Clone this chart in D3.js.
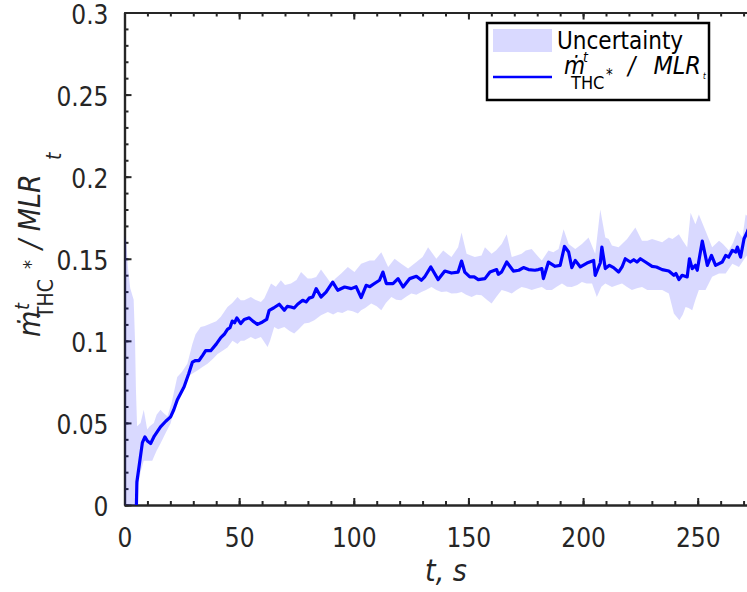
<!DOCTYPE html>
<html>
<head>
<meta charset="utf-8">
<script src="https://cdn.jsdelivr.net/npm/d3@7.9.0/dist/d3.min.js"></script>
<style>
  body { margin: 0; background: #fff; }
  svg { display: block; font-family: "DejaVu Sans Condensed", "DejaVu Sans", sans-serif; }
</style>
</head>
<body>
<svg id="chart" width="747" height="592"></svg>
<script>
// mean ratio (t in s)
const meanT = [5.2, 5.4, 6.5, 7.8, 8.9, 10, 11.4, 13, 15.7, 18, 20.1, 21.5, 23, 26, 28, 29.6, 31, 32.5, 34, 35.4,
  37.6, 40, 42, 43.5, 44.9, 46, 47, 48, 49, 50.7, 52.2, 54.4, 56, 58, 60.2, 62, 63.1, 65, 67.5, 69.7,
  71, 72.6, 74, 75.5, 77.7, 79.2, 80.5, 82.1, 83.6, 85.7, 87.9, 90.8, 93, 96, 98.9, 101, 103.2, 105.4, 107, 109,
  111.2, 112.7, 114.2, 117.1, 119.3, 121.5, 124.4, 127.3, 129.5, 130.9, 133.6, 136.8, 139.7, 142.6, 145.5, 147, 148.4, 150.6, 152.5, 154.3,
  157.2, 159.4, 162.3, 163, 164.5, 166.7, 169.6, 172, 174, 176.2, 179, 180.5, 182, 182.7, 184.9, 187.8, 190, 191.9, 193.7, 195.1,
  196.6, 198.8, 201.7, 204.6, 205.3, 207.5, 208.2, 209.7, 211.5, 213.3, 215.5, 217, 218.4, 220.6, 222.1, 223.5, 225, 227.2, 230.1, 232,
  234.5, 237.4, 239.6, 240.5, 241.8, 243.2, 245.4, 246.4, 247.6, 249, 249.8, 252, 254.2, 256, 257.8, 260.7, 262.2, 263.5, 265.1, 266.6,
  267.3, 268.7, 270.2, 271.5, 272.4];
const meanV = [0, 0.014, 0.025, 0.038, 0.0415, 0.039, 0.0375, 0.042, 0.0476, 0.051, 0.0537, 0.058, 0.064, 0.072, 0.080, 0.087, 0.088, 0.088, 0.091, 0.094,
  0.094, 0.098, 0.102, 0.104, 0.107, 0.108, 0.112, 0.111, 0.114, 0.1105, 0.113, 0.114, 0.112, 0.110, 0.1115, 0.113, 0.1186, 0.120, 0.1223, 0.1186,
  0.121, 0.1206, 0.120, 0.1223, 0.1247, 0.1237, 0.126, 0.1267, 0.1318, 0.1267, 0.1297, 0.1358, 0.1308, 0.1328, 0.1318, 0.133, 0.1263, 0.1338, 0.133, 0.1349,
  0.1369, 0.1419, 0.1349, 0.1349, 0.1379, 0.1328, 0.1379, 0.1393, 0.1369, 0.1389, 0.145, 0.1373, 0.1425, 0.1413, 0.1419, 0.1486, 0.1419, 0.1389, 0.139, 0.1373,
  0.1379, 0.1419, 0.1434, 0.1405, 0.142, 0.148, 0.1425, 0.143, 0.1446, 0.1434, 0.143, 0.1434, 0.144, 0.1379, 0.148, 0.1454, 0.146, 0.1575, 0.1541, 0.1446,
  0.149, 0.145, 0.1474, 0.149, 0.1399, 0.1474, 0.1571, 0.144, 0.146, 0.1446, 0.1419, 0.145, 0.15, 0.148, 0.1494, 0.148, 0.15, 0.148, 0.1454, 0.145,
  0.1434, 0.1425, 0.1399, 0.141, 0.1373, 0.1399, 0.1389, 0.15, 0.144, 0.146, 0.143, 0.1608, 0.146, 0.152, 0.146, 0.148, 0.152, 0.151, 0.1551, 0.1541,
  0.1571, 0.151, 0.1622, 0.166, 0.169];

// uncertainty band, upper edge
const upperT = [0, 0.8, 1.5, 2.5, 4, 4.6, 5, 5.5, 7, 8.4, 9.9, 11, 12.8, 14, 15.7, 17, 18.7, 20.5, 23, 25,
  27.4, 29.6, 31, 33.2, 35, 37.6, 40, 42, 44.9, 47, 49.3, 50.7, 52.2, 55.1, 57, 59.5, 61, 63.9, 66, 68.2,
  70, 72.6, 75, 77, 79.9, 81.5, 83.6, 85.7, 88, 90.1, 92, 94.5, 97.4, 100.3, 103.2, 106.9, 109, 112, 115, 117.8,
  120.7, 123.7, 127.3, 130, 132.4, 136, 139, 142.6, 145.5, 147, 149.2, 152.8, 155.7, 157.2, 160.1, 162, 164.5, 166.7, 168.9, 171,
  173.2, 175, 177.6, 180, 182, 184.9, 187, 189.3, 191.5, 193.7, 196.6, 199.5, 202.4, 205.3, 207.5, 209.7, 211.2, 212.6, 215.5, 219.2,
  222.8, 225.7, 228, 230.1, 234.5, 237.4, 239, 241.8, 243.5, 245.4, 246.9, 249, 250.5, 253.4, 256.3, 259.3, 261, 263.6, 265.5, 267.3,
  269.5, 270.9, 272.4];
const upperV = [0.165, 0.16, 0.145, 0.132, 0.125, 0.10, 0.07, 0.048, 0.05, 0.058, 0.046, 0.048, 0.05, 0.055, 0.058, 0.056, 0.054, 0.062, 0.078, 0.081,
  0.086, 0.098, 0.104, 0.1085, 0.109, 0.1105, 0.112, 0.1146, 0.1206, 0.123, 0.1267, 0.1247, 0.1247, 0.1267, 0.125, 0.1237, 0.126, 0.1349, 0.133, 0.1369,
  0.134, 0.1349, 0.137, 0.1419, 0.1379, 0.138, 0.1389, 0.1434, 0.139, 0.1349, 0.138, 0.141, 0.145, 0.1419, 0.147, 0.149, 0.149, 0.154, 0.145, 0.15,
  0.147, 0.144, 0.148, 0.151, 0.157, 0.15, 0.155, 0.151, 0.157, 0.166, 0.153, 0.151, 0.152, 0.157, 0.153, 0.155, 0.159, 0.165, 0.151, 0.152,
  0.153, 0.155, 0.156, 0.152, 0.149, 0.155, 0.154, 0.156, 0.168, 0.159, 0.156, 0.159, 0.163, 0.153, 0.18, 0.163, 0.162, 0.158, 0.157, 0.162,
  0.169, 0.161, 0.161, 0.162, 0.16, 0.163, 0.162, 0.165, 0.161, 0.157, 0.178, 0.171, 0.177, 0.167, 0.157, 0.161, 0.159, 0.155, 0.16, 0.167,
  0.163, 0.177, 0.175];

// uncertainty band, lower edge
const lowerT = [0, 4.8, 5.5, 7, 8.4, 10, 12.1, 14, 15.7, 18, 20.1, 22, 24.5, 27.4, 29.5, 31.8, 34, 36.2, 38.5, 40.6,
  42.8, 44.9, 47.1, 49.3, 50.7, 52.2, 55.1, 57, 59.5, 62.4, 63.5, 65.3, 67, 69.7, 72, 74, 76, 78.4, 80.5, 82.8,
  85.7, 88.7, 91, 93, 95, 97.4, 99.5, 101.8, 103.2, 105, 107.6, 110, 112, 114, 116.4, 118.5, 120.7, 123, 125.1, 127.3,
  129.5, 131.5, 133.9, 136, 138.2, 140.5, 142.6, 145, 147, 149, 151.4, 153.5, 155.7, 158, 160.1, 162.3, 164.5, 166.7, 168.9, 171,
  173.2, 175.5, 177.6, 180, 182, 184, 186.4, 188.5, 190.8, 193, 195.1, 197.5, 199.5, 201.5, 203.9, 206, 208, 209.7, 212.6, 215,
  217, 219, 221.3, 223.5, 225.7, 228, 230.1, 232.5, 234.5, 237.4, 239.6, 242, 243.5, 244.7, 246, 247.6, 249, 250.5, 253.4, 256.3,
  259.3, 262.2, 265.1, 268, 270.9, 272.4];
const lowerV = [-0.05, -0.05, 0.009, 0.02, 0.027, 0.027, 0.027, 0.033, 0.0375, 0.044, 0.0497, 0.06, 0.07, 0.078, 0.080, 0.082, 0.084, 0.086, 0.089, 0.092,
  0.094, 0.096, 0.1, 0.098, 0.1, 0.1, 0.1024, 0.101, 0.1024, 0.0963, 0.1, 0.1085, 0.107, 0.1085, 0.106, 0.1044, 0.107, 0.1105, 0.111, 0.1125,
  0.1156, 0.1176, 0.116, 0.1176, 0.117, 0.1186, 0.118, 0.1166, 0.1186, 0.12, 0.1227, 0.121, 0.1186, 0.123, 0.1267, 0.125, 0.1247, 0.127, 0.1288, 0.128,
  0.1297, 0.131, 0.1328, 0.131, 0.1297, 0.130, 0.1288, 0.129, 0.1297, 0.128, 0.1267, 0.128, 0.1277, 0.125, 0.1227, 0.127, 0.131, 0.13, 0.1288, 0.131,
  0.1328, 0.132, 0.131, 0.132, 0.1328, 0.131, 0.131, 0.133, 0.1349, 0.133, 0.1328, 0.134, 0.1358, 0.135, 0.1349, 0.1267, 0.133, 0.1349, 0.1328, 0.134,
  0.1349, 0.133, 0.131, 0.132, 0.1328, 0.131, 0.131, 0.131, 0.131, 0.1288, 0.1166, 0.1125, 0.116, 0.1206, 0.12, 0.1186, 0.125, 0.131, 0.131, 0.139,
  0.141, 0.141, 0.147, 0.145, 0.151, 0.153];

const xTicks = [0, 50, 100, 150, 200, 250];
const yTicks = [0, 0.05, 0.1, 0.15, 0.2, 0.25, 0.3];
const yTickLabels = ["0", "0.05", "0.1", "0.15", "0.2", "0.25", "0.3"];

const axisColor = "#262626";
const blue = "#0000ff";

const svg = d3.select("#chart");
const x = d3.scaleLinear().domain([0, 280]).range([124.5, 766.5]);
const y = d3.scaleLinear().domain([0, 0.3]).range([505, 12.5]);

// axes (drawn under the data, like MATLAB's default layer)
function styleAxis(g) {
    g.selectAll("path.domain").attr("stroke", axisColor).attr("stroke-width", 2.2);
    g.selectAll(".tick line").attr("stroke", axisColor).attr("stroke-width", 2);
    g.selectAll(".tick text").attr("fill", axisColor).attr("font-size", 26)
        .attr("font-family", '"DejaVu Sans Condensed", "DejaVu Sans", sans-serif');
}

const minorX = d3.range(0, 281, 10);
const minorY = d3.range(0, 0.3001, 0.01);

svg.append("g").attr("transform", `translate(0,${y(0)})`)
    .call(d3.axisBottom(x).tickValues(minorX).tickSize(-4).tickSizeOuter(0).tickFormat(""))
    .call(styleAxis);
svg.append("g").attr("transform", `translate(0,${y(0)})`)
    .call(d3.axisBottom(x).tickValues(xTicks).tickSize(-7).tickSizeOuter(0).tickPadding(24).tickFormat(d3.format("d")))
    .call(styleAxis);
svg.append("g").attr("transform", `translate(0,${y(0.3)})`)
    .call(d3.axisTop(x).tickValues(minorX).tickSize(-4).tickSizeOuter(0).tickFormat(""))
    .call(styleAxis);
svg.append("g").attr("transform", `translate(0,${y(0.3)})`)
    .call(d3.axisTop(x).tickValues(xTicks).tickSize(-7).tickSizeOuter(0).tickFormat(""))
    .call(styleAxis);
svg.append("g").attr("transform", `translate(${x(0)},0)`)
    .call(d3.axisLeft(y).tickValues(minorY).tickSize(-4).tickSizeOuter(0).tickFormat(""))
    .call(styleAxis);
svg.append("g").attr("transform", `translate(${x(0)},0)`)
    .call(d3.axisLeft(y).tickValues(yTicks).tickSize(-7).tickSizeOuter(0).tickPadding(16)
        .tickFormat((d, i) => yTickLabels[i]))
    .call(styleAxis)
    .call(g => g.selectAll(".tick text").attr("dy", "0.42em"));

// clip to the plot box
svg.append("clipPath").attr("id", "plotClip")
    .append("rect")
    .attr("x", x(0)).attr("y", y(0.3))
    .attr("width", x(280) - x(0)).attr("height", y(0) - y(0.3));

const plot = svg.append("g").attr("clip-path", "url(#plotClip)");

// band polygon: upper edge forward, lower edge back
const upperPts = upperT.map((t, i) => [t, upperV[i]]);
const lowerPts = lowerT.map((t, i) => [t, lowerV[i]]).reverse();
const edge = d3.line().x(d => x(d[0])).y(d => y(d[1]));

plot.append("path")
    .attr("d", edge(upperPts.concat(lowerPts)) + "Z")
    .attr("fill", blue)
    .attr("fill-opacity", 0.15)
    .attr("stroke", "none");

plot.append("path")
    .datum(meanT.map((t, i) => [t, meanV[i]]))
    .attr("d", edge)
    .attr("fill", "none")
    .attr("stroke", blue)
    .attr("stroke-width", 3.2)
    .attr("stroke-linejoin", "round");

// axis labels
svg.append("text")
    .attr("x", 446).attr("y", 581)
    .attr("text-anchor", "middle")
    .attr("font-size", 30)
    .attr("font-style", "italic")
    .attr("fill", axisColor)
    .text("t, s");

// y label pieces, mimicking the TeX layout in the figure
const yLabel = svg.append("g").attr("transform", "translate(40,337) rotate(-90)");
const yLabelParts = [
    { s: "ṁ", x: 0, y: 0, size: 30, it: true },
    { s: "t", x: 27, y: -11, size: 20, it: true },
    { s: "THC", x: 19, y: 13, size: 21, it: false },
    { s: "*", x: 68, y: -3, size: 20, it: false },
    { s: "/ MLR", x: 88, y: 0, size: 30, it: true },
    { s: "t", x: 177, y: 21, size: 21, it: true }
];
yLabel.selectAll("text").data(yLabelParts).join("text")
    .attr("x", d => d.x).attr("y", d => d.y)
    .attr("font-size", d => d.size)
    .attr("font-style", d => d.it ? "italic" : "normal")
    .attr("fill", axisColor)
    .text(d => d.s);

// legend
const legend = svg.append("g");
legend.append("rect")
    .attr("x", 487).attr("y", 23).attr("width", 222).attr("height", 77)
    .attr("fill", "#fff").attr("stroke", "#000").attr("stroke-width", 2.5);
legend.append("rect")
    .attr("x", 493).attr("y", 29).attr("width", 59).attr("height", 23)
    .attr("fill", blue).attr("fill-opacity", 0.15);
legend.append("text")
    .attr("x", 557).attr("y", 49)
    .attr("font-size", 24).attr("fill", "#000")
    .text("Uncertainty");
legend.append("line")
    .attr("x1", 493).attr("x2", 552).attr("y1", 77).attr("y2", 77)
    .attr("stroke", blue).attr("stroke-width", 2.5);

const legendParts = [
    { s: "ṁ", x: 564, y: 74, size: 24, it: true, anchor: "start" },
    { s: "t", x: 583, y: 62, size: 14, it: true, anchor: "start" },
    { s: "THC", x: 571, y: 89, size: 18, it: false, anchor: "start" },
    { s: "*", x: 606, y: 80, size: 15, it: false, anchor: "start" },
    { s: "/", x: 628, y: 74, size: 24, it: true, anchor: "start" },
    { s: "MLR", x: 701, y: 74, size: 25, it: true, anchor: "end" },
    { s: "t", x: 703, y: 79, size: 8, it: true, anchor: "start" }
];
legend.selectAll("text.part").data(legendParts).join("text")
    .attr("class", "part")
    .attr("x", d => d.x).attr("y", d => d.y)
    .attr("text-anchor", d => d.anchor)
    .attr("font-size", d => d.size)
    .attr("font-style", d => d.it ? "italic" : "normal")
    .attr("fill", "#000")
    .text(d => d.s);
</script>
</body>
</html>
